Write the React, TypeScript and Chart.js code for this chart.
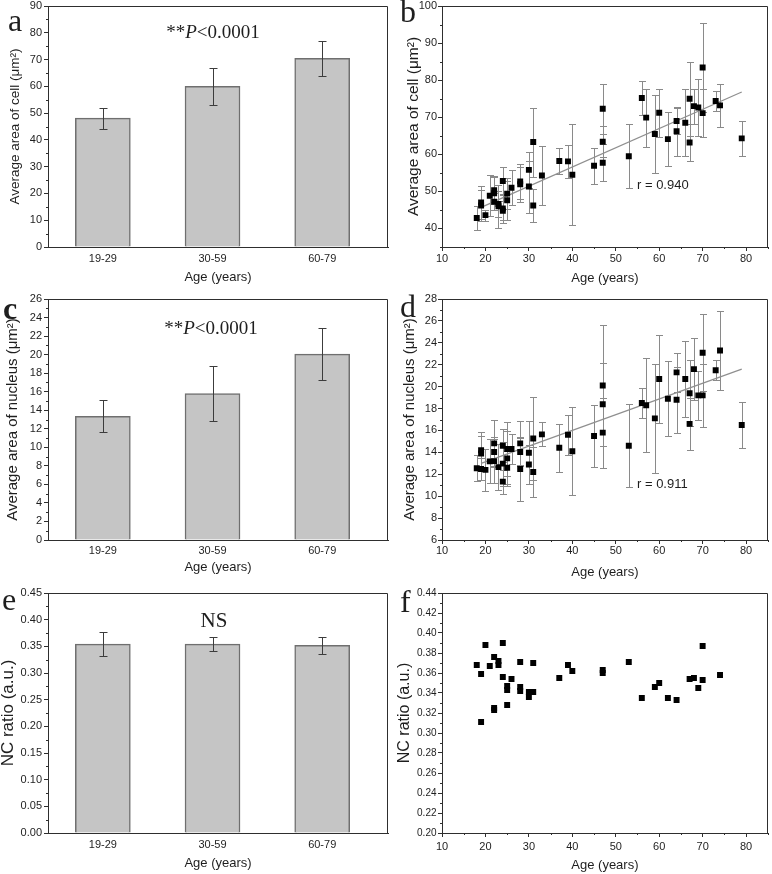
import React, { useEffect, useRef } from 'react';
import { Chart, registerables } from 'chart.js';

Chart.register(...registerables);

// ---------------- data ----------------
const ageGroups = ['19-29', '30-59', '60-79'];
const groupPositions = [1, 2, 3];

const cellAreaMean = [48.1, 60.0, 70.5];
const cellAreaSd = [3.9, 6.8, 6.5];
const nucleusAreaMean = [13.35, 15.8, 20.05];
const nucleusAreaSd = [1.75, 3.0, 2.8];
const ncRatioMean = [0.354, 0.354, 0.352];
const ncRatioSd = [0.022, 0.0135, 0.0155];

const cellAges = [18, 19, 19, 20, 21, 22, 22, 22, 23, 23, 24, 24, 24, 25, 25, 26, 28, 28, 30, 30, 31, 31, 33, 37, 39, 40, 45, 47, 47, 47, 53, 56, 57, 59, 60, 62, 64, 64, 66, 67, 67, 68, 69, 70, 70, 73, 74, 79];
const cellArea = [42.8, 47.0, 46.2, 43.6, 48.8, 50.3, 49.5, 47.2, 46.6, 46.0, 52.8, 45.4, 44.8, 49.4, 47.6, 51.0, 52.7, 51.9, 55.8, 51.3, 63.3, 46.2, 54.3, 58.2, 58.1, 54.5, 56.9, 72.3, 63.4, 57.7, 59.5, 75.2, 69.9, 65.5, 71.2, 64.1, 69.0, 66.2, 68.5, 75.0, 63.2, 73.0, 72.6, 83.4, 71.1, 74.4, 73.2, 64.3];
const cellAreaErr = [3.2, 4.5, 4.2, 1.5, 5.5, 3.8, 4.5, 2.3, 3.4, 5.8, 3.9, 4.0, 2.5, 4.2, 5.3, 4.7, 4.7, 4.8, 4.8, 7.0, 9.3, 4.4, 8.0, 3.5, 4.4, 13.6, 4.8, 6.7, 4.2, 5.0, 8.6, 4.7, 7.8, 10.6, 6.4, 7.2, 3.6, 6.6, 9.0, 10.0, 5.0, 4.7, 7.6, 11.9, 6.4, 2.6, 5.8, 4.7];
const cellFitAges = [19, 79];
const cellFitArea = [45.7, 76.8];
const cellR = 'r = 0.940';

const nucAges = [18, 19, 19, 19, 20, 21, 22, 22, 22, 23, 24, 24, 24, 25, 25, 25, 26, 28, 28, 28, 30, 30, 31, 31, 33, 37, 39, 40, 45, 47, 47, 47, 53, 56, 57, 59, 60, 62, 64, 64, 66, 67, 67, 68, 69, 70, 70, 73, 74, 79];
const nucArea = [12.55, 14.2, 13.9, 12.48, 12.4, 13.18, 14.82, 14.03, 13.2, 12.65, 14.6, 12.97, 11.33, 14.3, 13.45, 12.6, 14.3, 14.82, 14.03, 12.48, 13.97, 12.9, 15.27, 12.2, 15.64, 14.42, 15.6, 14.1, 15.5, 20.1, 18.4, 15.8, 14.6, 18.5, 18.3, 17.1, 20.7, 18.9, 21.3, 18.8, 20.7, 19.4, 16.6, 21.6, 19.2, 23.1, 19.2, 21.5, 23.3, 16.5];
const nucAreaErr = [1.2, 1.7, 1.6, 1.0, 1.9, 2.0, 2.1, 1.4, 2.0, 2.1, 1.5, 2.0, 1.1, 2.5, 2.5, 1.5, 1.4, 2.0, 1.3, 2.9, 2.9, 1.8, 3.8, 2.3, 1.1, 2.2, 1.8, 4.0, 2.8, 5.5, 3.8, 3.2, 3.8, 1.4, 4.3, 5.0, 4.0, 3.4, 1.8, 3.0, 3.5, 3.0, 2.4, 2.8, 2.2, 3.5, 2.9, 0.9, 3.6, 2.1];
const nucFitAges = [19, 79];
const nucFitArea = [13.0, 21.6];
const nucR = 'r = 0.911';

const ncAges = [18, 19, 19, 20, 21, 22, 22, 22, 23, 23, 24, 24, 25, 25, 25, 26, 28, 28, 28, 30, 30, 31, 31, 37, 39, 40, 47, 47, 53, 56, 59, 60, 62, 64, 67, 68, 69, 70, 70, 74];
const ncRatio = [0.368, 0.359, 0.311, 0.388, 0.367, 0.376, 0.325, 0.323, 0.372, 0.368, 0.390, 0.356, 0.347, 0.343, 0.328, 0.354, 0.371, 0.346, 0.342, 0.336, 0.341, 0.370, 0.341, 0.355, 0.368, 0.362, 0.363, 0.360, 0.371, 0.335, 0.346, 0.350, 0.335, 0.333, 0.354, 0.355, 0.345, 0.387, 0.353, 0.358];

// ---------------- styling ----------------
const SANS = '"Liberation Sans", Arial, sans-serif';
const SERIF = '"Liberation Serif", "Times New Roman", serif';
const TEXT = '#1e1e1e';
const AXIS = '#2e2e2e';

Chart.defaults.font.family = SANS;
Chart.defaults.color = TEXT;

type Run = { text: string; font: string };
type TextItem = { runs: Run[]; x: number; y: number; align: 'left' | 'center'; baseline: CanvasTextBaseline };
type ErrSpec = { dataset: number; values: number[]; color: string; cap: number; layer: 'before' | 'after' };
type Decor = { minorX?: number; minorY?: number; errors: ErrSpec[]; texts: TextItem[] };

function drawErrors(chart: any, d: Decor, layer: string) {
  const { ctx } = chart;
  const xs = chart.scales.x;
  const ys = chart.scales.y;
  for (const e of d.errors) {
    if (e.layer !== layer) continue;
    const data = chart.data.datasets[e.dataset].data as { x: number; y: number }[];
    ctx.save();
    ctx.strokeStyle = e.color;
    ctx.lineWidth = 1;
    data.forEach((p, i) => {
      const dv = e.values[i];
      if (dv == null) return;
      const px = Math.round(xs.getPixelForValue(p.x)) + 0.5;
      const top = Math.round(ys.getPixelForValue(p.y + dv)) + 0.5;
      const bot = Math.round(ys.getPixelForValue(p.y - dv)) + 0.5;
      ctx.beginPath();
      ctx.moveTo(px, top);
      ctx.lineTo(px, bot);
      ctx.moveTo(px - e.cap / 2, top);
      ctx.lineTo(px + e.cap / 2, top);
      ctx.moveTo(px - e.cap / 2, bot);
      ctx.lineTo(px + e.cap / 2, bot);
      ctx.stroke();
    });
    ctx.restore();
  }
}

function drawMinor(chart: any, id: string, step: number, len: number) {
  const s = chart.scales[id];
  const a = chart.chartArea;
  const ctx = chart.ctx;
  const n0 = Math.ceil(s.min / step - 1e-6);
  const n1 = Math.floor(s.max / step + 1e-6);
  const majors = s.ticks.map((t: any) => t.value);
  ctx.save();
  ctx.strokeStyle = AXIS;
  ctx.lineWidth = 1;
  ctx.beginPath();
  for (let n = n0; n <= n1; n++) {
    const v = n * step;
    if (majors.some((m: number) => Math.abs(m - v) < step * 1e-3)) continue;
    const p = Math.round(s.getPixelForValue(v)) + 0.5;
    if (s.isHorizontal()) {
      ctx.moveTo(p, a.bottom);
      ctx.lineTo(p, a.bottom + len);
    } else {
      ctx.moveTo(a.left - len, p);
      ctx.lineTo(a.left, p);
    }
  }
  ctx.stroke();
  ctx.restore();
}

function makeDecor(d: Decor) {
  return {
    id: 'decor',
    beforeDatasetsDraw(chart: any) {
      drawErrors(chart, d, 'before');
    },
    afterDatasetsDraw(chart: any) {
      drawErrors(chart, d, 'after');
    },
    afterDraw(chart: any) {
      const { ctx, chartArea: a } = chart;
      ctx.save();
      ctx.strokeStyle = AXIS;
      ctx.lineWidth = 1;
      ctx.beginPath();
      const t = Math.round(a.top) + 0.5;
      const r = Math.round(a.right) - 0.5;
      ctx.moveTo(a.left, t);
      ctx.lineTo(r, t);
      ctx.lineTo(r, a.bottom);
      ctx.stroke();
      ctx.restore();
      if (d.minorX) drawMinor(chart, 'x', d.minorX, 2);
      if (d.minorY) drawMinor(chart, 'y', d.minorY, 2);
      for (const item of d.texts) {
        ctx.save();
        let total = 0;
        for (const run of item.runs) {
          ctx.font = run.font;
          total += ctx.measureText(run.text).width;
        }
        let x = item.align === 'center' ? item.x - total / 2 : item.x;
        ctx.textAlign = 'left';
        ctx.textBaseline = item.baseline;
        ctx.fillStyle = TEXT;
        for (const run of item.runs) {
          ctx.font = run.font;
          ctx.fillText(run.text, x, item.y);
          x += ctx.measureText(run.text).width;
        }
        ctx.restore();
      }
    },
  };
}

function fixSize(size: number) {
  return (s: any) => {
    if (s.isHorizontal()) s.height = size;
    else s.width = size;
    s.paddingTop = 0;
    s.paddingBottom = 0;
    s.paddingLeft = 0;
    s.paddingRight = 0;
  };
}

type YOpts = { min: number; max: number; step: number; width: number; title: string; titleSize: number; titlePad: number; tickSize: number; tickPad: number; decimals?: number };
function yAxis(o: YOpts) {
  const ticks: any = { stepSize: o.step, includeBounds: false, color: TEXT, font: { size: o.tickSize, family: SANS }, padding: o.tickPad };
  if (o.decimals) ticks.callback = (v: number) => Number(v).toFixed(o.decimals);
  return {
    type: 'linear',
    min: o.min,
    max: o.max,
    afterFit: fixSize(o.width),
    ticks,
    grid: { display: true, drawOnChartArea: false, drawTicks: true, tickLength: 4, color: AXIS, tickWidth: 1 },
    border: { display: true, color: AXIS, width: 1 },
    title: { display: true, text: o.title, color: TEXT, font: { size: o.titleSize, family: SANS }, padding: { top: o.titlePad, bottom: 0 } },
  };
}

type XOpts = { height: number; tickPad: number; titlePad: number; tickSize: number };
function ageAxis(o: XOpts) {
  return {
    type: 'linear',
    min: 10,
    max: 85,
    offset: false,
    afterFit: fixSize(o.height),
    ticks: { stepSize: 10, includeBounds: false, color: TEXT, font: { size: o.tickSize, family: SANS }, padding: o.tickPad, maxRotation: 0 },
    grid: { display: true, drawOnChartArea: false, drawTicks: true, tickLength: 4, color: AXIS, tickWidth: 1, offset: false },
    border: { display: true, color: AXIS, width: 1 },
    title: { display: true, text: 'Age (years)', color: TEXT, font: { size: 13, family: SANS }, padding: { top: 0, bottom: o.titlePad } },
  };
}

function groupAxis(o: XOpts) {
  return {
    type: 'linear',
    min: 0.5,
    max: 3.6,
    offset: false,
    afterFit: fixSize(o.height),
    afterBuildTicks: (s: any) => {
      s.ticks = groupPositions.map((v) => ({ value: v }));
    },
    ticks: {
      color: TEXT,
      font: { size: o.tickSize, family: SANS },
      padding: o.tickPad,
      maxRotation: 0,
      autoSkip: false,
      callback: (v: number) => ageGroups[groupPositions.indexOf(Number(v))] ?? '',
    },
    grid: { display: true, drawOnChartArea: false, drawTicks: false, color: AXIS, offset: false },
    border: { display: true, color: AXIS, width: 1 },
    title: { display: true, text: 'Age (years)', color: TEXT, font: { size: 13, family: SANS }, padding: { top: 0, bottom: o.titlePad } },
  };
}

function letter(ch: string, x: number, y: number, bold = false): TextItem {
  return { runs: [{ text: ch, font: `${bold ? 'bold ' : ''}32px ${SERIF}` }], x, y, align: 'left', baseline: 'alphabetic' };
}

function pText(x: number, y: number): TextItem {
  return {
    runs: [
      { text: '**', font: `19px ${SERIF}` },
      { text: 'P', font: `italic 19px ${SERIF}` },
      { text: '<0.0001', font: `19px ${SERIF}` },
    ],
    x,
    y,
    align: 'center',
    baseline: 'middle',
  };
}

function barConfig(means: number[], sds: number[], y: YOpts, x: XOpts, padding: any, texts: TextItem[], minorY: number) {
  return {
    type: 'bar',
    data: {
      datasets: [
        {
          data: groupPositions.map((p, i) => ({ x: p, y: means[i] })),
          backgroundColor: '#c5c5c5',
          borderColor: '#6f6f6f',
          borderWidth: 1.5,
          barThickness: 55,
        },
      ],
    },
    options: {
      responsive: false,
      devicePixelRatio: 1,
      animation: false,
      layout: { padding },
      plugins: { legend: { display: false }, tooltip: { enabled: false } },
      scales: { x: groupAxis(x), y: yAxis(y) },
    },
    plugins: [makeDecor({ minorY, errors: [{ dataset: 0, values: sds, color: '#3c3c3c', cap: 8, layer: 'after' }], texts })],
  };
}

function scatterConfig(ages: number[], vals: number[], errs: number[] | null, fitX: number[] | null, fitY: number[] | null, y: YOpts, x: XOpts, padding: any, texts: TextItem[], minorY: number) {
  const datasets: any[] = [
    {
      data: ages.map((a, i) => ({ x: a, y: vals[i] })),
      pointStyle: 'rect',
      pointRadius: 4.2,
      backgroundColor: '#000',
      borderColor: '#000',
      borderWidth: 0,
    },
  ];
  if (fitX && fitY) {
    datasets.push({
      type: 'line',
      data: fitX.map((a, i) => ({ x: a, y: fitY[i] })),
      borderColor: '#8f8f8f',
      borderWidth: 1.2,
      pointRadius: 0,
      fill: false,
    });
  }
  const errors: ErrSpec[] = errs ? [{ dataset: 0, values: errs, color: '#8a8a8a', cap: 7, layer: 'before' }] : [];
  return {
    type: 'scatter',
    data: { datasets },
    options: {
      responsive: false,
      devicePixelRatio: 1,
      animation: false,
      layout: { padding },
      plugins: { legend: { display: false }, tooltip: { enabled: false } },
      scales: { x: ageAxis(x), y: yAxis(y) },
    },
    plugins: [makeDecor({ minorX: 5, minorY, errors, texts })],
  };
}

type Spec = { left: number; top: number; width: number; height: number; build: () => any };

const specs: Spec[] = [
  {
    left: 0,
    top: 0,
    width: 390,
    height: 290,
    build: () =>
      barConfig(
        cellAreaMean,
        cellAreaSd,
        { min: 0, max: 90, step: 10, width: 48, title: 'Average area of cell (μm²)', titleSize: 13.5, titlePad: 7, tickSize: 11, tickPad: 2 },
        { height: 43, tickPad: 5, titlePad: 5, tickSize: 11 },
        { left: 0, top: 6, right: 2, bottom: 0 },
        [letter('a', 8, 31), pText(213, 33)],
        5
      ),
  },
  {
    left: 390,
    top: 0,
    width: 382,
    height: 290,
    build: () =>
      scatterConfig(
        cellAges,
        cellArea,
        cellAreaErr,
        cellFitAges,
        cellFitArea,
        { min: 35, max: 100, step: 10, width: 52, title: 'Average area of cell (μm²)', titleSize: 15.5, titlePad: 14, tickSize: 11, tickPad: 1 },
        { height: 43, tickPad: 1, titlePad: 4, tickSize: 11 },
        { left: 0, top: 6, right: 2, bottom: 0 },
        [letter('b', 10, 22), { runs: [{ text: cellR, font: `13px ${SANS}` }], x: 247, y: 185, align: 'left', baseline: 'middle' }],
        5
      ),
  },
  {
    left: 0,
    top: 290,
    width: 390,
    height: 290,
    build: () =>
      barConfig(
        nucleusAreaMean,
        nucleusAreaSd,
        { min: 0, max: 26, step: 2, width: 48, title: 'Average area of nucleus (μm²)', titleSize: 15, titlePad: 4, tickSize: 11, tickPad: 2 },
        { height: 40, tickPad: 4, titlePad: 5, tickSize: 11 },
        { left: 0, top: 9, right: 2, bottom: 0 },
        [letter('c', 3, 29, true), pText(211, 39)],
        1
      ),
  },
  {
    left: 390,
    top: 290,
    width: 382,
    height: 290,
    build: () =>
      scatterConfig(
        nucAges,
        nucArea,
        nucAreaErr,
        nucFitAges,
        nucFitArea,
        { min: 6, max: 28, step: 2, width: 52, title: 'Average area of nucleus (μm²)', titleSize: 15, titlePad: 11, tickSize: 11, tickPad: 1 },
        { height: 40, tickPad: 0, titlePad: 0, tickSize: 11 },
        { left: 0, top: 9, right: 2, bottom: 0 },
        [letter('d', 10, 27), { runs: [{ text: nucR, font: `13px ${SANS}` }], x: 247, y: 194, align: 'left', baseline: 'middle' }],
        1
      ),
  },
  {
    left: 0,
    top: 580,
    width: 390,
    height: 294,
    build: () =>
      barConfig(
        ncRatioMean,
        ncRatioSd,
        { min: 0, max: 0.45, step: 0.05, width: 48, title: 'NC ratio (a.u.)', titleSize: 17, titlePad: -2, tickSize: 11, tickPad: 2, decimals: 2 },
        { height: 41, tickPad: 5, titlePad: 3, tickSize: 11 },
        { left: 0, top: 13, right: 2, bottom: 0 },
        [letter('e', 2, 30), { runs: [{ text: 'NS', font: `21px ${SERIF}` }], x: 214, y: 41, align: 'center', baseline: 'middle' }],
        0.025
      ),
  },
  {
    left: 390,
    top: 580,
    width: 382,
    height: 294,
    build: () =>
      scatterConfig(
        ncAges,
        ncRatio,
        null,
        null,
        null,
        { min: 0.2, max: 0.44, step: 0.02, width: 52, title: 'NC ratio (a.u.)', titleSize: 16, titlePad: 5, tickSize: 10, tickPad: 1.5, decimals: 2 },
        { height: 41, tickPad: 3, titlePad: 1, tickSize: 11 },
        { left: 0, top: 13, right: 2, bottom: 0 },
        [letter('f', 10, 32)],
        0.01
      ),
  },
];

function Panel({ spec }: { spec: Spec }) {
  const ref = useRef<HTMLCanvasElement>(null);
  useEffect(() => {
    const chart = new Chart(ref.current as HTMLCanvasElement, spec.build());
    return () => chart.destroy();
  }, [spec]);
  return (
    <canvas
      ref={ref}
      width={spec.width}
      height={spec.height}
      style={{ position: 'absolute', left: spec.left, top: spec.top, width: spec.width, height: spec.height }}
    />
  );
}

export default function App() {
  return (
    <div style={{ position: 'absolute', left: 0, top: 0, width: 772, height: 874, background: '#fff', overflow: 'hidden' }}>
      {specs.map((s, i) => (
        <Panel key={i} spec={s} />
      ))}
    </div>
  );
}
